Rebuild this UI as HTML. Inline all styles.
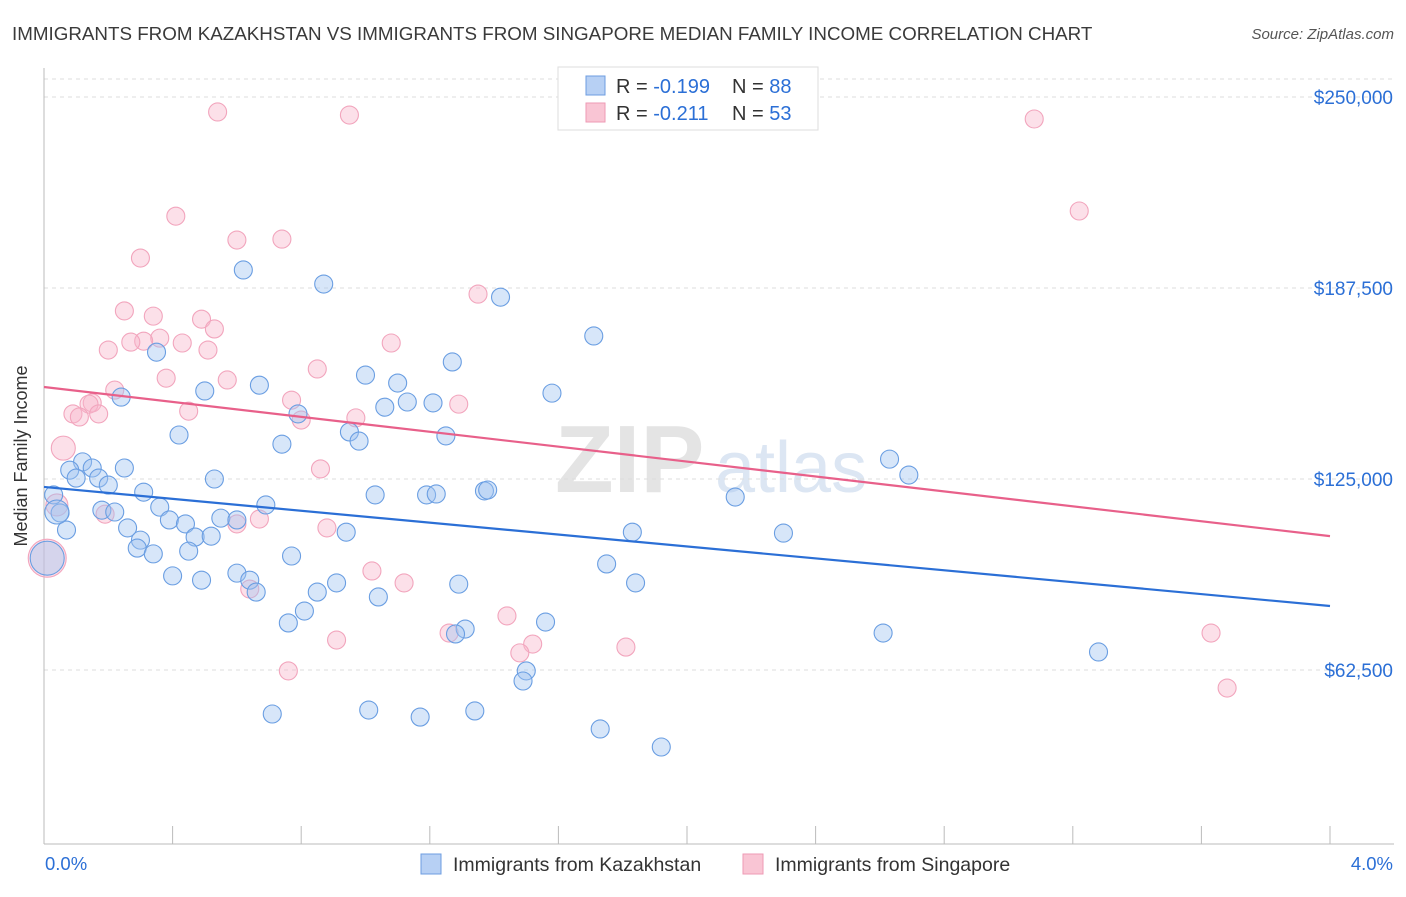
<!DOCTYPE html>
<html><head><meta charset="utf-8"><style>
body{margin:0;background:#fff;font-family:"Liberation Sans",sans-serif;}
svg text{font-family:"Liberation Sans",sans-serif;}
</style></head><body>
<svg id="chart" width="1406" height="892" xmlns="http://www.w3.org/2000/svg">
<text x="12" y="40" font-size="18.8" fill="#3a3a3a">IMMIGRANTS FROM KAZAKHSTAN VS IMMIGRANTS FROM SINGAPORE MEDIAN FAMILY INCOME CORRELATION CHART</text>
<text x="1394" y="39" font-size="15" fill="#555" text-anchor="end" font-style="italic">Source: ZipAtlas.com</text>
<text x="555" y="492" font-size="96" fill="#e4e4e4" font-weight="bold">ZIP</text>
<text x="715" y="492" font-size="72" fill="#dce6f3">atlas</text>
<g id="grid"></g>
<g id="axes"></g>
<g id="pts"></g>
<g id="trend"></g>
<text x="27" y="456" font-size="18" fill="#333" text-anchor="middle" transform="rotate(-90 27 456)">Median Family Income</text>
<g>
<rect x="558" y="67" width="260" height="63" fill="#fff" stroke="#ddd"/>
<rect x="586" y="76" width="19" height="19" fill="#b7d0f4" stroke="#6d9de0"/>
<rect x="586" y="103" width="19" height="19" fill="#f9c5d4" stroke="#ee9ab4"/>
<text x="616" y="93" font-size="20" fill="#333">R = <tspan fill="#2b6fd6">-0.199</tspan><tspan x="732">N = </tspan><tspan fill="#2b6fd6">88</tspan></text>
<text x="616" y="120" font-size="20" fill="#333">R = <tspan fill="#2b6fd6"> -0.211</tspan><tspan x="732">N = </tspan><tspan fill="#2b6fd6">53</tspan></text>
</g>
<g>
<rect x="421" y="854" width="20" height="20" fill="#b7d0f4" stroke="#6d9de0"/>
<text x="453" y="871" font-size="19.5" fill="#333">Immigrants from Kazakhstan</text>
<rect x="743" y="854" width="20" height="20" fill="#f9c5d4" stroke="#ee9ab4"/>
<text x="775" y="871" font-size="19.5" fill="#333">Immigrants from Singapore</text>
</g>
</svg>
<script>
const yTicks=[62500,125000,187500,250000];
const yTickLabels=["$62,500","$125,000","$187,500","$250,000"];
const xTicks=[0,0.4,0.8,1.2,1.6,2.0,2.4,2.8,3.2,3.6,4.0];
const xEndLabels=["0.0%","4.0%"];
const kzX=[.62,.87,1.42,1.71,.35,1.27,1.00,1.10,.67,.50,1.58,.24,1.13,1.06,1.21,.79,.95,.42,.98,1.25,.74,2.63,2.69,.12,.08,.15,.25,.10,.17,.20,.53,.31,.03,1.03,1.19,1.22,1.37,1.38,2.15,.69,.36,.05,.18,.22,.39,.55,.60,.07,.26,.44,.94,1.83,2.30,.30,.47,.52,.29,.34,.45,.77,1.75,.40,.60,.49,.64,.66,.91,.85,1.84,1.29,1.04,.81,.76,1.56,1.31,1.28,2.61,3.28,1.50,1.49,.71,1.01,1.17,1.34,1.73,1.92,.01,.04];
const kzY=[193400,188800,184500,171800,166500,163300,159000,156400,155700,153800,153100,151800,150200,148500,149900,146300,140400,139400,137400,139100,136400,131500,126300,130600,127900,128600,128600,125300,125300,123000,125000,120700,119800,119800,119800,120100,121100,121400,119100,116500,115800,113900,114800,114200,111600,112200,111600,108300,109000,110300,107600,107600,107300,105000,106000,106300,102400,100500,101400,99800,97200,93300,94200,91900,91900,88000,91000,88000,91000,90600,86400,81800,77900,78200,75900,74300,74600,68400,62200,58900,48100,49400,47100,49100,43200,37300,99100,114200];
const kzR=kzX.map((_,i)=>i===kzX.length-2?17:(i===kzX.length-1?12:9));
const sgX=[.54,.95,3.08,.41,.60,.74,3.22,.30,1.35,.25,.34,.49,.53,.36,.31,.43,.27,1.08,.20,.51,.85,.38,.57,.22,.77,1.29,.15,.14,.45,.09,.11,.17,.97,.80,.06,.86,.04,.19,.60,.67,.88,1.02,1.12,.64,1.44,.91,1.26,1.52,1.48,1.81,3.63,.76,3.68,.01];
const sgY=[245100,244100,242800,211000,203200,203500,212700,197300,185500,180000,178300,177300,174100,171100,170100,169500,169800,169500,167200,167200,161000,158000,157400,154100,150800,149500,149900,149500,147200,146300,145300,146300,145000,144300,135100,128300,116500,113500,110300,111900,109000,94900,91000,89000,80200,72300,74600,71000,68100,70000,74600,62200,56600,99100];
const sgR=sgX.map((_,i)=>i===sgX.length-1?19:(i===34?12:(i===36?11:9)));
const kzTrend=[122400,83440];
const sgTrend=[155100,106300];
const X0=44,X1=1330,YB=861,PX=191/62500;
const xs=v=>X0+v/4*(X1-X0);
const ys=v=>YB-v*PX;
const NS="http://www.w3.org/2000/svg";
function mk(t,a,p){const e=document.createElementNS(NS,t);for(const k in a)e.setAttribute(k,a[k]);p.appendChild(e);return e;}
const grid=document.getElementById('grid'),axes=document.getElementById('axes'),pts=document.getElementById('pts'),tr=document.getElementById('trend');
mk('line',{x1:X0,x2:1394,y1:79,y2:79,stroke:'#ddd','stroke-dasharray':'4,4'},grid);
yTicks.forEach((v,i)=>{
 const l=mk('line',{x1:X0,x2:1394,y1:ys(v),y2:ys(v),stroke:'#ddd','stroke-dasharray':'4,4'},grid);
 
 
 const t=mk('text',{x:1393,y:ys(v)+7,'font-size':19,fill:'#2b6fd6','text-anchor':'end'},axes);
 t.textContent=yTickLabels[i];
 
 
});
const ax=mk('line',{x1:X0,x2:X0,y1:68,y2:844,stroke:'#bbb'},axes);


const bx=mk('line',{x1:X0,x2:1394,y1:844,y2:844,stroke:'#bbb'},axes);


xTicks.forEach(v=>{
 const t=mk('line',{x1:xs(v),x2:xs(v),y1:826,y2:844,stroke:'#bbb'},axes);
 
 
});
[[X0+1,'start'],[1393,'end']].forEach((p,i)=>{
 const t=mk('text',{x:p[0],y:870,'font-size':18.5,fill:'#2b6fd6','text-anchor':p[1]},axes);
 t.textContent=xEndLabels[i];
 
 
});
sgX.forEach((v,i)=>{
 const c=mk('circle',{cx:xs(v),cy:ys(sgY[i]),r:sgR[i],fill:'rgba(248,180,202,0.42)',stroke:'#f2a5bd','stroke-width':1.1},pts);
 
 
});
kzX.forEach((v,i)=>{
 const c=mk('circle',{cx:xs(v),cy:ys(kzY[i]),r:kzR[i],fill:'rgba(160,195,240,0.42)',stroke:'#6a9ee2','stroke-width':1.1},pts);
 
 
});
const l1=mk('line',{x1:xs(0),x2:xs(4),y1:ys(kzTrend[0]),y2:ys(kzTrend[1]),stroke:'#2b6fd6','stroke-width':2.2},tr);


const l2=mk('line',{x1:xs(0),x2:xs(4),y1:ys(sgTrend[0]),y2:ys(sgTrend[1]),stroke:'#e8608a','stroke-width':2.2},tr);


</script>
</body></html>
